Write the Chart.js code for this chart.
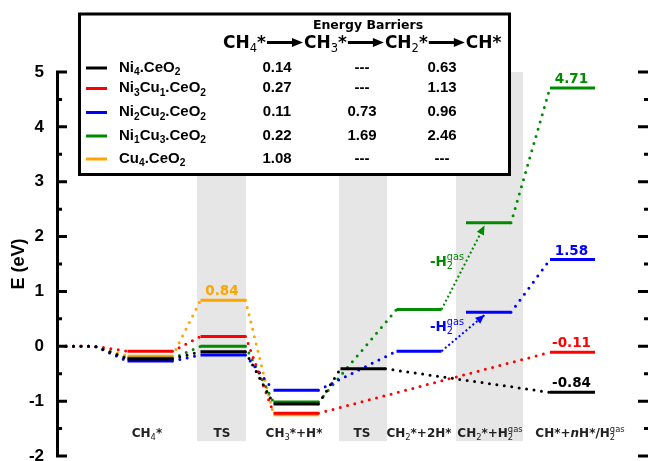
<!DOCTYPE html>
<html>
<head>
<meta charset="utf-8">
<script src="https://cdn.jsdelivr.net/npm/chart.js@4.4.1/dist/chart.umd.min.js"></script>
<style>
  body { margin: 0; background: #fff; }
  canvas { display: block; }
</style>
</head>
<body>
<canvas id="myChart" width="648" height="461"></canvas>
<script>
/* data */
let stages = ['CH_{4}*', 'TS', 'CH_{3}*+H*', 'TS', 'CH_{2}*+2H*', 'CH_{2}*+H_{2}^{gas}', 'CH*+~n~H*/H_{2}^{gas}'];
let startEnergy = 0;

// energies (eV) at each stage, null = no level
let ni4 = [-0.23, -0.10, -1.05, -0.41, null, null, -0.84];
let ni3cu1 = [-0.09, 0.18, -1.22, null, null, null, -0.11];
let ni2cu2 = [-0.27, -0.16, -0.80, null, -0.09, 0.62, 1.58];
let ni1cu3 = [-0.22, 0.00, -1.015, null, 0.67, 2.25, 4.71];
let cu4 = [-0.18, 0.84, -1.25, null, null, null, null];

let names = ['Ni_{4}.CeO_{2}', 'Ni_{3}Cu_{1}.CeO_{2}', 'Ni_{2}Cu_{2}.CeO_{2}', 'Ni_{1}Cu_{3}.CeO_{2}', 'Cu_{4}.CeO_{2}'];
let barrierSteps = ['CH_{4}*', 'CH_{3}*', 'CH_{2}*', 'CH*'];
let barrier1 = ['0.14', '0.27', '0.11', '0.22', '1.08'];
let barrier2 = ['---', '---', '0.73', '1.69', '---'];
let barrier3 = ['0.63', '1.13', '0.96', '2.46', '---'];

let yTicksMin = -2, yTicksMax = 5;

/* layout / style */
let series = [ni4, ni3cu1, ni2cu2, ni1cu3, cu4];
let colors = ['#000000', '#ff0000', '#0000ff', '#008a00', '#ffa500'];
let stageX = [150, 223, 296, 363, 419, 488.5, 572.5];
let stageLabelX = [147, 222, 294, 362, 419, 490, 580];
let half = 22.5;
let startX = [66, 95];
let arrowSteps = [4];          // stage 4 -> 5 is the H2 release arrow
let bands = [[197, 246], [339, 387], [456, 523]];
let valueLabels = [[4, 1], [3, 6], [2, 6], [1, 6], [0, 6]];  // [series, stage]
let sans = '"DejaVu Sans"';
let arial = '"Liberation Sans", Arial';

/* rich text: _x sub, ^x sup, ~ italic toggle */
function parseRich(str) {
  let out = [], i = 0, italic = false, buf = '';
  const flush = () => { if (buf) { out.push({ text: buf, kind: 'n', italic }); buf = ''; } };
  while (i < str.length) {
    let ch = str[i];
    if (ch === '_' || ch === '^') {
      flush();
      let txt;
      if (str[i + 1] === '{') { let j = str.indexOf('}', i); txt = str.slice(i + 2, j); i = j + 1; }
      else { txt = str[i + 1]; i += 2; }
      out.push({ text: txt, kind: ch === '_' ? 'sub' : 'sup', italic });
    } else if (ch === '~') { flush(); italic = !italic; i++; }
    else { buf += ch; i++; }
  }
  flush();
  return out;
}

function drawRich(ctx, str, x, y, o) {
  let parts = parseRich(str);
  let items = [], cx = 0;
  parts.forEach(p => {
    let size = p.kind === 'n' ? o.size : o.size * (o.scriptScale || 0.68);
    let w8 = p.kind === 'n' ? o.weight : (o.scriptWeight || o.weight);
    let font = (p.italic ? 'italic ' : '') + w8 + ' ' + size + 'px ' + o.family;
    ctx.font = font;
    let w = ctx.measureText(p.text).width;
    let dy = p.kind === 'sub' ? o.size * 0.24 : p.kind === 'sup' ? -o.size * 0.42 : 0;
    let prev = items[items.length - 1];
    if (p.kind === 'sup' && prev && prev.kind === 'sub') {
      items.push({ text: p.text, kind: p.kind, x: prev.x, dy, font });
      cx = Math.max(cx, prev.x + w);
    } else {
      items.push({ text: p.text, kind: p.kind, x: cx, dy, font });
      cx += w;
    }
  });
  let x0 = o.align === 'center' ? x - cx / 2 : o.align === 'right' ? x - cx : x;
  ctx.fillStyle = o.color;
  ctx.textAlign = 'left';
  ctx.textBaseline = 'alphabetic';
  items.forEach(it => { ctx.font = it.font; ctx.fillText(it.text, x0 + it.x, y + it.dy); });
  return cx;
}

function arrowHead(ctx, x0, y0, x1, y1, len, wid, color) {
  let a = Math.atan2(y1 - y0, x1 - x0);
  ctx.save();
  ctx.translate(x1, y1);
  ctx.rotate(a);
  ctx.beginPath();
  ctx.moveTo(0, 0);
  ctx.lineTo(-len, -wid);
  ctx.lineTo(-len, wid);
  ctx.closePath();
  ctx.fillStyle = color;
  ctx.fill();
  ctx.restore();
}

/* build paths: kinds[k] = style of segment from point k to point k+1 */
let datasets = [];
let arrows = [];
series.forEach((vals, s) => {
  let pts = [{ x: startX[0], y: startEnergy }, { x: startX[1], y: startEnergy }];
  let kinds = ['link'];
  let prev = -1;
  vals.forEach((v, i) => {
    if (v === null) return;
    if (prev >= 0 && arrowSteps.includes(prev) && i === prev + 1) {
      pts.push({ x: stageX[i] - half, y: null }); kinds.push('gap');
      arrows.push({ s, from: { x: stageX[prev] + half, y: vals[prev] }, to: { x: stageX[i] - 4, y: v - 0.05 } });
    }
    pts.push({ x: stageX[i] - half, y: v }); kinds.push('link');
    pts.push({ x: stageX[i] + half, y: v }); kinds.push('level');
    prev = i;
  });
  datasets.push({
    data: pts,
    borderColor: colors[s],
    borderWidth: 3,
    pointRadius: 0,
    spanGaps: false,
    segment: {
      borderDash: c => kinds[c.p0DataIndex] === 'level' ? [] : [0, 7.5],
      borderCapStyle: c => kinds[c.p0DataIndex] === 'level' ? 'butt' : 'round'
    }
  });
});
arrows.forEach(a => {
  datasets.push({
    data: [a.from, a.to],
    borderColor: colors[a.s],
    borderWidth: 2,
    borderDash: [2, 2.5],
    pointRadius: 0,
    isArrow: true
  });
});

/* plugins */
let bandPlugin = {
  id: 'bands',
  beforeDatasetsDraw(chart) {
    let ctx = chart.ctx, xs = chart.scales.x, ys = chart.scales.y;
    ctx.save();
    ctx.fillStyle = '#e6e6e6';
    let top = chart.chartArea.top, bot = ys.getPixelForValue(-1.73);
    bands.forEach(b => {
      let l = xs.getPixelForValue(b[0]), r = xs.getPixelForValue(b[1]);
      ctx.fillRect(l, top, r - l, bot - top);
    });
    ctx.restore();
  }
};

let overlayPlugin = {
  id: 'overlay',
  afterDatasetsDraw(chart) {
    let ctx = chart.ctx, xs = chart.scales.x, ys = chart.scales.y, area = chart.chartArea;
    ctx.save();

    // arrow heads + H2 gas labels
    chart.data.datasets.forEach((d, i) => {
      if (!d.isArrow) return;
      let p = chart.getDatasetMeta(i).data;
      let a = p[0], b = p[1];
      arrowHead(ctx, a.x, a.y, b.x, b.y, 9, 4, d.borderColor);
      let mx = (a.x + b.x) / 2, my = (a.y + b.y) / 2;
      drawRich(ctx, '-H_{2}^{gas}', mx + 1, my - 2, { size: 13.5, family: sans, weight: 'bold', scriptWeight: 'normal', scriptScale: 0.72, color: d.borderColor, align: 'right' });
    });

    // value labels
    valueLabels.forEach(([s, st]) => {
      let v = series[s][st];
      let px = xs.getPixelForValue(stageX[st]), py = ys.getPixelForValue(v);
      ctx.font = 'bold 13.5px ' + sans;
      ctx.fillStyle = colors[s];
      ctx.textAlign = 'center';
      ctx.textBaseline = 'alphabetic';
      ctx.fillText(v.toFixed(2), px - 1, py - 5);
    });

    // stage labels
    stages.forEach((lab, i) => {
      drawRich(ctx, lab, xs.getPixelForValue(stageLabelX[i]), ys.getPixelForValue(-1.65),
        { size: 12, family: sans, weight: 'bold', scriptWeight: 'normal', scriptScale: 0.7, color: '#222', align: 'center' });
    });

    // inward ticks on both sides
    ctx.strokeStyle = '#000';
    ctx.lineWidth = 3;
    ctx.beginPath();
    ys.ticks.forEach(t => {
      let py = ys.getPixelForValue(t.value);
      let major = Math.abs(t.value - Math.round(t.value)) < 1e-6;
      ctx.moveTo(area.left - 1, py); ctx.lineTo(area.left + (major ? 10 : 5), py);
      ctx.moveTo(area.right, py); ctx.lineTo(area.right - (major ? 10 : 4), py);
    });
    ctx.stroke();
    ctx.restore();
  },
  afterDraw(chart) {
    let ctx = chart.ctx;
    ctx.save();
    // table box
    ctx.fillStyle = '#fff';
    ctx.fillRect(78, 12.5, 433, 163.5);
    ctx.strokeStyle = '#000';
    ctx.lineWidth = 3;
    ctx.strokeRect(79.5, 14, 430, 160.5);

    ctx.font = 'bold 12.5px ' + sans;
    ctx.fillStyle = '#000';
    ctx.textAlign = 'center';
    ctx.textBaseline = 'alphabetic';
    ctx.fillText('Energy Barriers', 368, 29);

    // header with arrows
    let hx = 223, hy = 48;
    barrierSteps.forEach((t, i) => {
      hx += drawRich(ctx, t, hx, hy, { size: 17, family: sans, weight: 'bold', scriptWeight: 'normal', scriptScale: 0.68, color: '#000', align: 'left' });
      if (i < barrierSteps.length - 1) {
        ctx.strokeStyle = '#000';
        ctx.lineWidth = 3;
        ctx.beginPath();
        ctx.moveTo(hx + 1, hy - 5.5);
        ctx.lineTo(hx + 29, hy - 5.5);
        ctx.stroke();
        arrowHead(ctx, hx, hy - 5.5, hx + 37, hy - 5.5, 11, 4.5, '#000');
        hx += 38;
      }
    });

    // rows
    let rowY = [71.5, 92, 116, 139.5, 162.5];
    let cols = [277, 362, 442];
    names.forEach((n, r) => {
      let y = rowY[r];
      ctx.strokeStyle = colors[r];
      ctx.lineWidth = 3;
      ctx.beginPath();
      ctx.moveTo(86, y - 3.5);
      ctx.lineTo(107, y - 3.5);
      ctx.stroke();
      drawRich(ctx, n, 119, y, { size: 15, family: arial, weight: 'bold', scriptScale: 0.68, color: '#000', align: 'left' });
      ctx.font = 'bold 15px ' + arial;
      ctx.fillStyle = '#000';
      ctx.textAlign = 'center';
      ctx.fillText(barrier1[r], cols[0], y);
      ctx.fillText(barrier2[r], cols[1], y);
      ctx.fillText(barrier3[r], cols[2], y);
    });
    ctx.restore();
  }
};

let my_chart = new Chart(document.getElementById('myChart').getContext('2d'), {
  type: 'line',
  data: { datasets: datasets },
  options: {
    responsive: false,
    devicePixelRatio: 1,
    animation: false,
    layout: { padding: { top: 72, bottom: 5, left: 0, right: 0 } },
    plugins: { legend: { display: false }, tooltip: { enabled: false } },
    scales: {
      x: { type: 'linear', min: 57, max: 648, display: false },
      y: {
        min: yTicksMin,
        max: yTicksMax,
        grid: { display: false },
        border: { display: true, width: 3, color: '#000' },
        ticks: {
          stepSize: 0.5,
          autoSkip: false,
          padding: 5,
          color: '#000',
          font: { family: arial, weight: 'bold', size: 17 },
          callback: v => Math.abs(v - Math.round(v)) < 1e-6 ? Math.round(v) : ''
        },
        title: {
          display: true,
          text: 'E (eV)',
          color: '#000',
          font: { family: arial, weight: 'bold', size: 18 },
          padding: { top: 8, bottom: 0 }
        },
        afterFit(scale) {
          scale.width = 57;
          scale.paddingTop = 0;
          scale.paddingBottom = 0;
        }
      }
    }
  },
  plugins: [bandPlugin, overlayPlugin]
});
</script>
</body>
</html>
